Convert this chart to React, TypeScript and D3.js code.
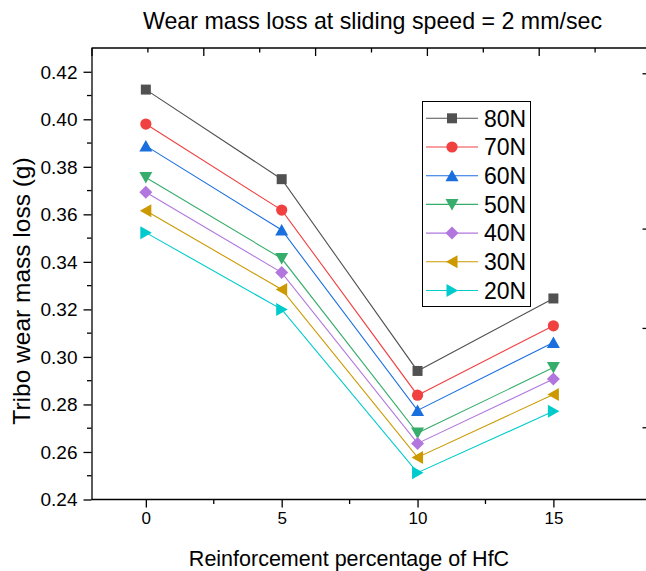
import React, { useEffect, useRef } from "react";
import * as d3 from "d3";

// reinforcement percentage (x)
const hfcPercent = [0, 5, 10, 15];

// wear mass loss (g) for each normal load
const load80N = [0.4125, 0.3748, 0.2941, 0.3246];
const load70N = [0.398, 0.3618, 0.2839, 0.3131];
const load60N = [0.3888, 0.3534, 0.2775, 0.3061];
const load50N = [0.3755, 0.3414, 0.268, 0.2955];
const load40N = [0.3693, 0.3355, 0.2636, 0.2907];
const load30N = [0.3615, 0.3284, 0.2577, 0.2842];
const load20N = [0.3523, 0.32, 0.2513, 0.2771];

const seriesNames = ["80N", "70N", "60N", "50N", "40N", "30N", "20N"];
const seriesValues = [load80N, load70N, load60N, load50N, load40N, load30N, load20N];

const yTickValues = [0.24, 0.26, 0.28, 0.3, 0.32, 0.34, 0.36, 0.38, 0.4, 0.42];
const xTickValues = [0, 5, 10, 15];

const colors = ["#515151", "#F14040", "#1A6FDF", "#37AD6B", "#B177DE", "#CC9900", "#00CBCC"];
const shapes = ["square", "circle", "up", "down", "diamond", "left", "right"];

const FONT = "'Liberation Sans', Arial, Helvetica, sans-serif";

// marker path centred on 0,0
const markerPath = (shape: string) => {
  const h = 6;
  switch (shape) {
    case "square":
      return "M-5,-5H5V5H-5Z";
    case "circle":
      return d3.symbol(d3.symbolCircle, Math.PI * 5.6 * 5.6)()!;
    case "up":
      return `M0,${-h}L${h + 0.5},${h - 0.5}L${-h - 0.5},${h - 0.5}Z`;
    case "down":
      return `M0,${h}L${h + 0.5},${-h + 0.5}L${-h - 0.5},${-h + 0.5}Z`;
    case "diamond":
      return "M0,-6.5L6.5,0L0,6.5L-6.5,0Z";
    case "left":
      return `M${-h},0L${h - 0.5},${-h - 0.5}L${h - 0.5},${h + 0.5}Z`;
    case "right":
      return `M${h},0L${-h + 0.5},${-h - 0.5}L${-h + 0.5},${h + 0.5}Z`;
  }
  return "";
};

const Chart = () => {
  const ref = useRef<SVGSVGElement | null>(null);

  useEffect(() => {
    const width = 646;
    const height = 571;
    const left = 91.5;
    const top = 48;
    const bottom = 499.5;

    const svg = d3.select(ref.current);
    svg.selectAll("*").remove();

    const x = d3.scaleLinear().domain([-2, 18.5]).range([left, left + 20.5 * 27.17]);
    const y = d3.scaleLinear().domain([0.24, 0.43]).range([bottom, top]);

    // top axis belongs to another scale in the source figure
    const xTop = d3.scaleLinear().domain([0, 10]).range([left, left + 559]);
    // right axis, only its ticks are visible at the edge
    const yRight = d3.scaleLinear().domain([0, 1]).range([bottom, top]);
    const rightTickValues = [0.16, 0.38, 0.6, 0.944];

    const axisStyle = (g: any) => {
      g.select(".domain").attr("stroke", "#000").attr("stroke-width", 1.3);
      g.selectAll(".tick line").attr("stroke", "#000").attr("stroke-width", 1.3);
      g.selectAll("text").attr("font-family", FONT).attr("fill", "#000");
    };

    // x axis bottom
    const gx = svg
      .append("g")
      .attr("transform", `translate(0,${bottom})`)
      .call(d3.axisBottom(x).tickValues(xTickValues).tickSize(8).tickSizeOuter(0).tickPadding(4).tickFormat(d3.format("d")));
    axisStyle(gx);
    gx.selectAll("text").attr("font-size", 17).attr("dy", "0.71em");
    gx.select(".domain").attr("d", `M${left},0H${width}`);
    gx.append("g")
      .selectAll("line")
      .data([2.5, 7.5, 12.5])
      .join("line")
      .attr("x1", (d) => x(d))
      .attr("x2", (d) => x(d))
      .attr("y1", 0)
      .attr("y2", 4.5)
      .attr("stroke", "#000")
      .attr("stroke-width", 1.3);

    // y axis left
    const gy = svg
      .append("g")
      .attr("transform", `translate(${left},0)`)
      .call(d3.axisLeft(y).tickValues(yTickValues).tickSize(8).tickSizeOuter(0).tickPadding(6).tickFormat(d3.format(".2f")));
    axisStyle(gy);
    gy.selectAll("text").attr("font-size", 19).attr("dy", "0.33em");
    gy.append("g")
      .selectAll("line")
      .data(d3.range(0.25, 0.43, 0.02))
      .join("line")
      .attr("y1", (d) => y(d))
      .attr("y2", (d) => y(d))
      .attr("x1", 0)
      .attr("x2", -4.5)
      .attr("stroke", "#000")
      .attr("stroke-width", 1.3);

    // top frame with inward ticks
    const gt = svg
      .append("g")
      .attr("transform", `translate(0,${top})`)
      .call(d3.axisBottom(xTop).ticks(10).tickSize(8).tickSizeOuter(0).tickFormat(() => ""));
    axisStyle(gt);
    gt.select(".domain").attr("d", `M${left},0H${width}`);
    gt.selectAll(".tick line").attr("y2", (d: any) => (d % 2 === 0 ? 8 : 4.5));

    // right frame ticks
    const gr = svg
      .append("g")
      .attr("transform", `translate(${width + 1},0)`)
      .call(d3.axisRight(yRight).tickValues(rightTickValues).tickSize(-4.5).tickSizeOuter(0).tickFormat(() => ""));
    axisStyle(gr);

    // series lines + markers
    const line = d3
      .line<number>()
      .x((_, i) => x(hfcPercent[i]))
      .y((d) => y(d));

    seriesValues.forEach((vals, si) => {
      svg
        .append("path")
        .attr("d", line(vals))
        .attr("fill", "none")
        .attr("stroke", colors[si])
        .attr("stroke-width", 1.1);
    });
    seriesValues.forEach((vals, si) => {
      svg
        .append("g")
        .selectAll("path")
        .data(vals)
        .join("path")
        .attr("d", markerPath(shapes[si]))
        .attr("transform", (d, i) => `translate(${x(hfcPercent[i])},${y(d)})`)
        .attr("fill", colors[si]);
    });

    // legend
    const lg = svg.append("g").attr("transform", "translate(422.5,101.5)");
    lg.append("rect")
      .attr("width", 108)
      .attr("height", 205)
      .attr("fill", "#fff")
      .attr("stroke", "#000")
      .attr("stroke-width", 1);
    const rows = lg
      .selectAll("g.row")
      .data(seriesNames)
      .join("g")
      .attr("class", "row")
      .attr("transform", (d, i) => `translate(0,${16.8 + i * 28.7})`);
    rows
      .append("line")
      .attr("x1", 3.5)
      .attr("x2", 55.5)
      .attr("stroke", (d, i) => colors[i])
      .attr("stroke-width", 1.1);
    rows
      .append("path")
      .attr("d", (d, i) => markerPath(shapes[i]))
      .attr("transform", "translate(29.5,0)")
      .attr("fill", (d, i) => colors[i]);
    rows
      .append("text")
      .attr("x", 61.5)
      .attr("y", 8.2)
      .attr("font-family", FONT)
      .attr("font-size", 23)
      .text((d) => d);

    // titles
    svg
      .append("text")
      .attr("x", 372.5)
      .attr("y", 29)
      .attr("text-anchor", "middle")
      .attr("font-family", FONT)
      .attr("font-size", 23.2)
      .text("Wear mass loss at sliding speed = 2 mm/sec");

    svg
      .append("text")
      .attr("x", 349)
      .attr("y", 566)
      .attr("text-anchor", "middle")
      .attr("font-family", FONT)
      .attr("font-size", 21.5)
      .text("Reinforcement percentage of HfC");

    svg
      .append("text")
      .attr("transform", "translate(30,291) rotate(-90)")
      .attr("text-anchor", "middle")
      .attr("font-family", FONT)
      .attr("font-size", 24.5)
      .text("Tribo wear mass loss (g)");

    svg.attr("width", width).attr("height", height);
  }, []);

  return <svg ref={ref} style={{ position: "absolute", left: 0, top: 0, background: "#fff" }} />;
};

export default function App() {
  return <Chart />;
}
